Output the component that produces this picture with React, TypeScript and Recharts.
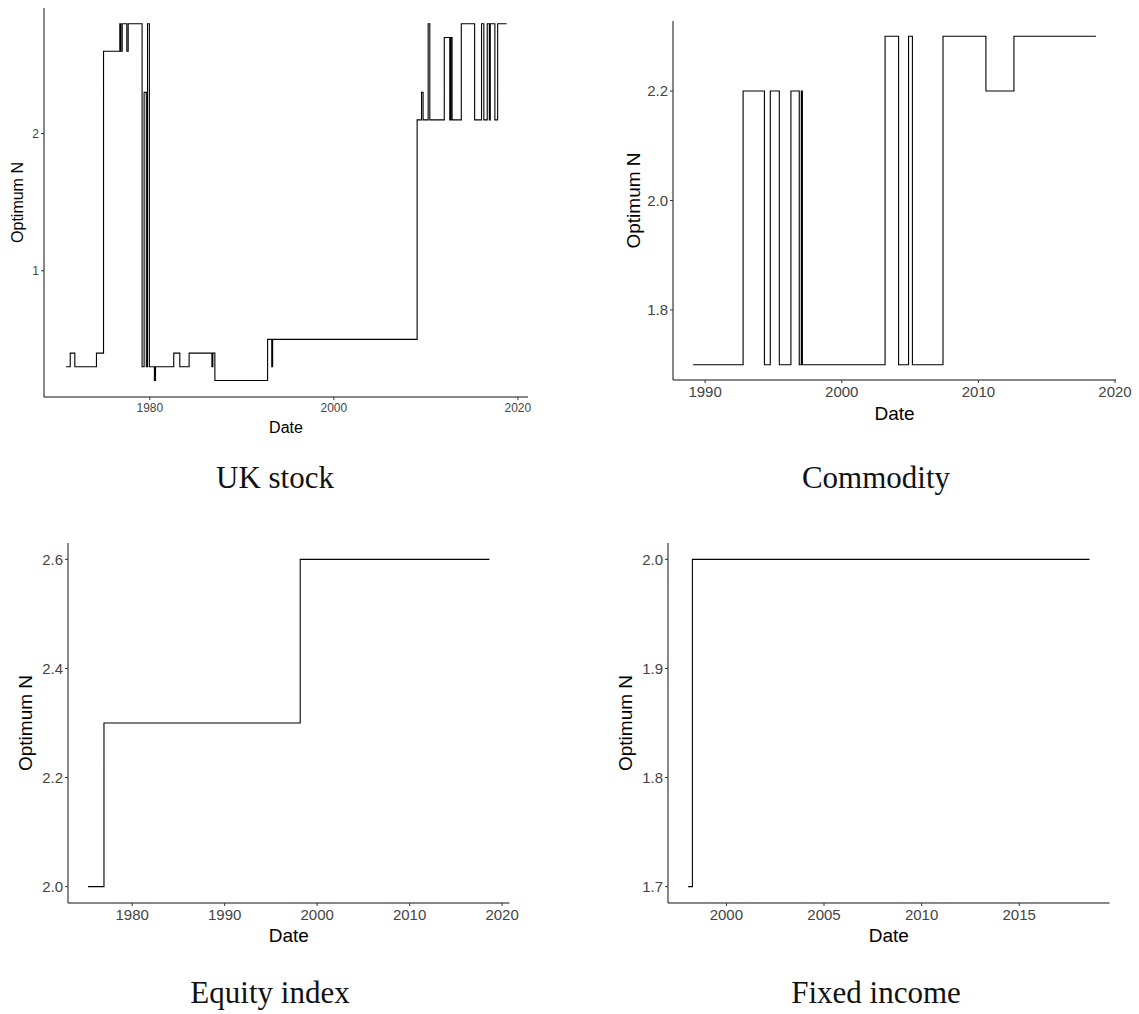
import React from 'react';
import { LineChart, Line, XAxis, YAxis, Label } from 'recharts';

// UK stock: dates where optimum N changes, and the value from that date on
const ukDates = [1970.9, 1971.35, 1971.85, 1974.2, 1974.97, 1976.74, 1976.85, 1977.0, 1977.5, 1977.65,
  1979.16, 1979.38, 1979.62, 1979.75, 1979.95, 1980.5, 1980.62, 1982.6, 1983.26, 1984.27, 1986.75,
  1986.85, 1987.07, 1992.8, 1993.25, 1993.35, 2009.05, 2009.53, 2009.7, 2010.25, 2010.43, 2012.0,
  2012.6, 2012.72, 2012.85, 2013.85, 2015.3, 2016.05, 2016.3, 2016.67, 2016.9, 2017.0, 2017.5,
  2017.8, 2018.77];
const ukValues = [0.3, 0.4, 0.3, 0.4, 2.6, 2.8, 2.6, 2.8, 2.6, 2.8,
  0.3, 2.3, 0.3, 2.8, 0.3, 0.2, 0.3, 0.4, 0.3, 0.4, 0.3,
  0.4, 0.2, 0.5, 0.3, 0.5, 2.1, 2.3, 2.1, 2.8, 2.1, 2.7,
  2.1, 2.7, 2.1, 2.8, 2.1, 2.8, 2.1, 2.8, 2.1, 2.8, 2.1,
  2.8, 2.8];

const comDates = [1989.12, 1992.78, 1994.34, 1994.77, 1995.43, 1996.28, 1996.89, 1997.04, 1997.12,
  2003.17, 2004.16, 2004.89, 2005.17, 2007.41, 2010.55, 2012.6, 2018.6];
const comValues = [1.7, 2.2, 1.7, 2.2, 1.7, 2.2, 1.7, 2.2, 1.7, 2.3, 1.7, 2.3, 1.7, 2.3, 2.2, 2.3, 2.3];

const eqDates = [1975.23, 1976.95, 1998.17, 2018.63];
const eqValues = [2.0, 2.3, 2.6, 2.6];

const fiDates = [1998.04, 1998.26, 2018.6];
const fiValues = [1.7, 2.0, 2.0];

const ukXTicks = [1980, 2000, 2020];
const ukYTicks = [1, 2];
const comXTicks = [1990, 2000, 2010, 2020];
const comYTicks = [1.8, 2.0, 2.2];
const eqXTicks = [1980, 1990, 2000, 2010, 2020];
const eqYTicks = [2.0, 2.2, 2.4, 2.6];
const fiXTicks = [2000, 2005, 2010, 2015];
const fiYTicks = [1.7, 1.8, 1.9, 2.0];

const toRows = (dates: number[], values: number[]) =>
  dates.map((d, i) => ({ date: d, n: values[i] }));

const PAD_RIGHT = 20;
const PAD_BOTTOM = 8;

interface PanelProps {
  rows: { date: number; n: number }[];
  left: number;
  top: number;
  plotRight: number;
  plotHeight: number;
  yWidth: number;
  xHeight: number;
  xDomain: [number, number];
  yDomain: [number, number];
  xTicks: number[];
  yTicks: number[];
  yFormat: (v: number) => string;
  tickFont: number;
  titleFont: number;
  yTitleOffset: number;
}

function Panel(p: PanelProps) {
  const tickStyle = { fontSize: p.tickFont, fill: '#444', fontFamily: 'Liberation Sans, Arial, sans-serif' };
  const titleStyle = { fontSize: p.titleFont, fill: '#000', fontFamily: 'Liberation Sans, Arial, sans-serif' };
  return (
    <div style={{ position: 'absolute', left: p.left, top: p.top }}>
      <LineChart
        width={p.plotRight - p.left + PAD_RIGHT}
        height={p.plotHeight + p.xHeight + PAD_BOTTOM}
        data={p.rows}
        margin={{ top: 0, right: PAD_RIGHT, bottom: PAD_BOTTOM, left: 0 }}
      >
        <XAxis
          dataKey="date"
          type="number"
          domain={p.xDomain}
          ticks={p.xTicks}
          allowDataOverflow
          height={p.xHeight}
          stroke="#111"
          tickSize={3}
          tickMargin={3}
          tick={tickStyle}
          tickLine={{ stroke: '#333' }}
        >
          <Label value="Date" position="insideBottom" offset={0} style={titleStyle} />
        </XAxis>
        <YAxis
          type="number"
          domain={p.yDomain}
          ticks={p.yTicks}
          allowDataOverflow
          width={p.yWidth}
          stroke="#111"
          tickSize={3}
          tickMargin={2}
          tick={tickStyle}
          tickLine={{ stroke: '#333' }}
          tickFormatter={p.yFormat}
        >
          <Label
            value="Optimum N"
            angle={-90}
            position="insideLeft"
            offset={p.yTitleOffset}
            style={{ ...titleStyle, textAnchor: 'middle' }}
          />
        </YAxis>
        <Line
          type="stepAfter"
          dataKey="n"
          stroke="#000"
          strokeWidth={1.1}
          dot={false}
          isAnimationActive={false}
        />
      </LineChart>
    </div>
  );
}

function Caption({ text, cx, top }: { text: string; cx: number; top: number }) {
  return (
    <div
      style={{
        position: 'absolute',
        left: cx,
        top,
        transform: 'translateX(-50%)',
        fontFamily: 'Liberation Serif, Times New Roman, serif',
        fontSize: 31,
        lineHeight: 1,
        color: '#111',
        whiteSpace: 'nowrap',
      }}
    >
      {text}
    </div>
  );
}

const one = (v: number) => v.toFixed(1);
const whole = (v: number) => String(v);

export default function App() {
  return (
    <div
      style={{
        position: 'absolute',
        left: 0,
        top: 0,
        width: 1139,
        height: 1014,
        background: '#fff',
        overflow: 'hidden',
      }}
    >
      <Panel
        rows={toRows(ukDates, ukValues)}
        left={0}
        top={8}
        plotRight={528}
        plotHeight={389}
        yWidth={44}
        xHeight={36}
        xDomain={[1968.5, 2021.1]}
        yDomain={[0.08, 2.915]}
        xTicks={ukXTicks}
        yTicks={ukYTicks}
        yFormat={whole}
        tickFont={12}
        titleFont={16}
        yTitleOffset={17}
      />
      <Panel
        rows={toRows(comDates, comValues)}
        left={600}
        top={21}
        plotRight={1116}
        plotHeight={359}
        yWidth={73}
        xHeight={40}
        xDomain={[1987.65, 2020.07]}
        yDomain={[1.672, 2.328]}
        xTicks={comXTicks}
        yTicks={comYTicks}
        yFormat={one}
        tickFont={15}
        titleFont={19}
        yTitleOffset={33}
      />
      <Panel
        rows={toRows(eqDates, eqValues)}
        left={0}
        top={543}
        plotRight={509.5}
        plotHeight={360}
        yWidth={68}
        xHeight={39}
        xDomain={[1973.06, 2020.8]}
        yDomain={[1.97, 2.63]}
        xTicks={eqXTicks}
        yTicks={eqYTicks}
        yFormat={one}
        tickFont={15}
        titleFont={19}
        yTitleOffset={25.5}
      />
      <Panel
        rows={toRows(fiDates, fiValues)}
        left={600}
        top={543}
        plotRight={1109.6}
        plotHeight={360}
        yWidth={68}
        xHeight={39}
        xDomain={[1997.01, 2019.63]}
        yDomain={[1.685, 2.015]}
        xTicks={fiXTicks}
        yTicks={fiYTicks}
        yFormat={one}
        tickFont={15}
        titleFont={19}
        yTitleOffset={25.5}
      />
      <Caption text="UK stock" cx={275} top={462} />
      <Caption text="Commodity" cx={876} top={462} />
      <Caption text="Equity index" cx={270} top={977} />
      <Caption text="Fixed income" cx={876} top={977} />
    </div>
  );
}
